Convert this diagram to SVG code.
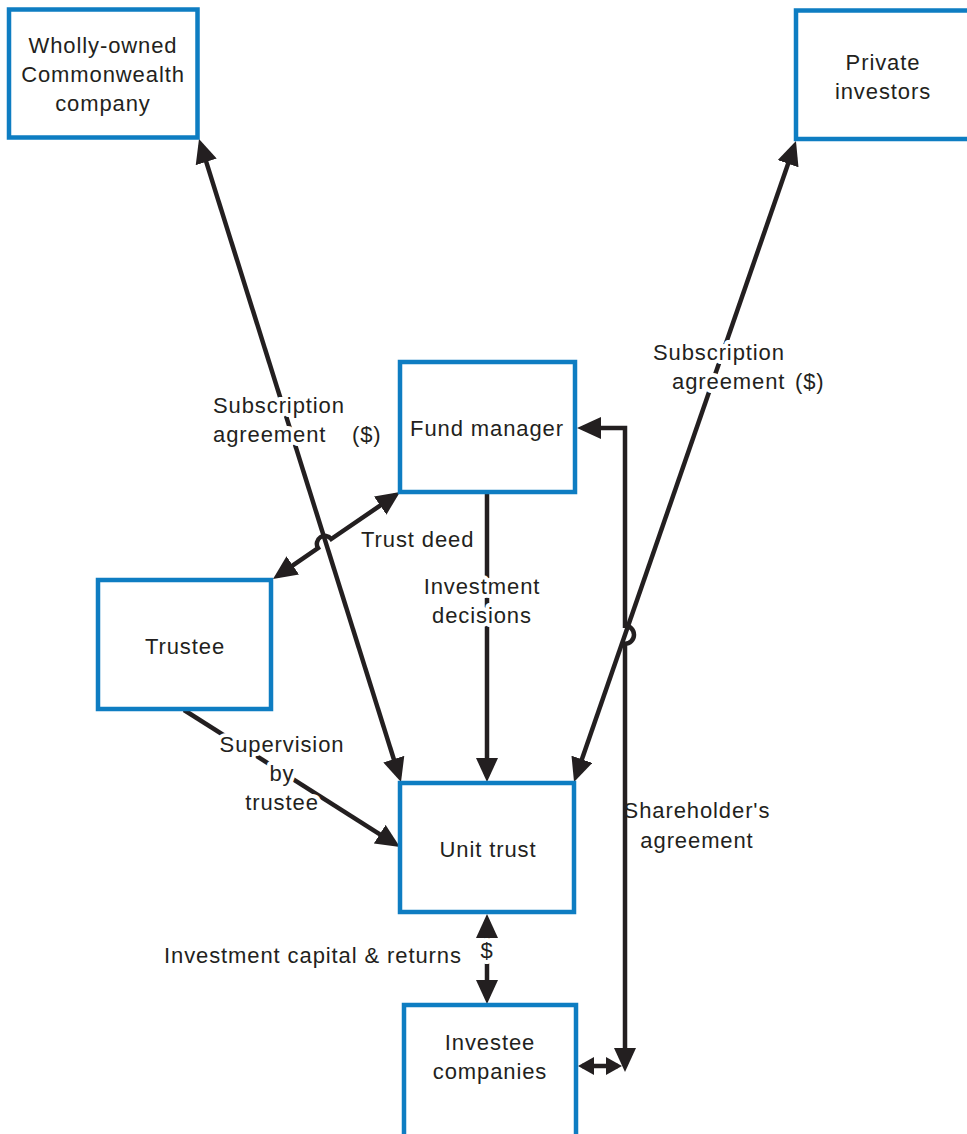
<svg xmlns="http://www.w3.org/2000/svg" width="967" height="1134" viewBox="0 0 967 1134">
<style>
.box{fill:#fff;stroke:#0e7dc2;stroke-width:4.5}
.ln{fill:none;stroke:#231f20;stroke-width:4.5}
.t{font-family:"Liberation Sans",Arial,sans-serif;font-size:22px;letter-spacing:0.9px;fill:#231f20}
.c{text-anchor:middle}
.h{stroke:#fff;stroke-width:8;stroke-linejoin:round;paint-order:stroke}
</style>
<defs>
<marker id="ah" markerUnits="userSpaceOnUse" markerWidth="24" markerHeight="22" refX="18" refY="11" orient="auto-start-reverse" viewBox="0 0 24 22">
<path d="M0,0 L24,11 L0,22 z" fill="#231f20"/>
</marker>
<marker id="as" markerUnits="userSpaceOnUse" markerWidth="16" markerHeight="18" refX="12" refY="9" orient="auto-start-reverse" viewBox="0 0 16 18">
<path d="M0,0 L16,9 L0,18 z" fill="#231f20"/>
</marker>
</defs>
<rect width="967" height="1134" fill="#fff"/>

<g id="connectors">
<path class="ln" d="M200.8,144.7 L399.2,776.3" marker-start="url(#ah)" marker-end="url(#ah)"/>
<path class="ln" d="M794,146.7 L576,776.3" marker-start="url(#ah)" marker-end="url(#ah)"/>
<path class="ln" d="M277.95,575.6 L318,548 A8,8 0 0 1 331.2,539 L395.05,495.4" marker-start="url(#ah)" marker-end="url(#ah)"/>
<path class="ln" d="M487,492 L487,776" marker-end="url(#ah)"/>
<path class="ln" d="M184,710 L394.9,843.8" marker-end="url(#ah)"/>
<path class="ln" d="M487,920 L487,998" marker-start="url(#ah)" marker-end="url(#ah)"/>
<path class="ln" d="M583,428 L625,428 L625,625.7 A9,9 0 0 1 625,643.7 L625,1066" marker-start="url(#ah)" marker-end="url(#ah)"/>
<path class="ln" d="M582,1066 L618,1066" marker-start="url(#as)" marker-end="url(#as)"/>
</g>

<g id="wholly-owned">
<rect class="box" x="9" y="9.5" width="188.5" height="128"/>
<text class="t c" x="103" y="53">Wholly-owned</text>
<text class="t c" x="103" y="82">Commonwealth</text>
<text class="t c" x="103" y="111">company</text>
</g>
<g id="private-investors">
<rect class="box" x="796" y="10.5" width="185" height="128.5"/>
<text class="t c" x="883" y="70">Private</text>
<text class="t c" x="883" y="99">investors</text>
</g>
<g id="fund-manager">
<rect class="box" x="400" y="362" width="175" height="130"/>
<text class="t c" x="487" y="436">Fund manager</text>
</g>
<g id="trustee">
<rect class="box" x="98" y="580" width="173" height="129"/>
<text class="t c" x="185" y="654">Trustee</text>
</g>
<g id="unit-trust">
<rect class="box" x="400" y="783" width="174" height="129"/>
<text class="t c" x="488" y="857">Unit trust</text>
</g>
<g id="investee-companies">
<rect class="box" x="404" y="1005" width="172" height="140"/>
<text class="t c" x="490" y="1050">Investee</text>
<text class="t c" x="490" y="1079">companies</text>
</g>

<g id="labels">
<text class="t h" x="213" y="413">Subscription</text>
<text class="t h" x="213" y="442">agreement</text>
<text class="t h" x="352" y="442">($)</text>
<text class="t h" x="653" y="360">Subscription</text>
<text class="t h" x="672" y="389">agreement</text>
<text class="t h" x="795" y="389">($)</text>
<text class="t h" x="361" y="547">Trust deed</text>
<text class="t c h" x="482" y="594">Investment</text>
<text class="t c h" x="482" y="623">decisions</text>
<text class="t c h" x="282" y="752">Supervision</text>
<text class="t c h" x="282" y="781">by</text>
<text class="t c h" x="282" y="810">trustee</text>
<text class="t" x="164" y="963">Investment capital &amp; returns</text>
<text class="t c h" x="487" y="958">$</text>
<text class="t c" x="697" y="818">Shareholder's</text>
<text class="t c" x="697" y="848">agreement</text>
</g>
</svg>
